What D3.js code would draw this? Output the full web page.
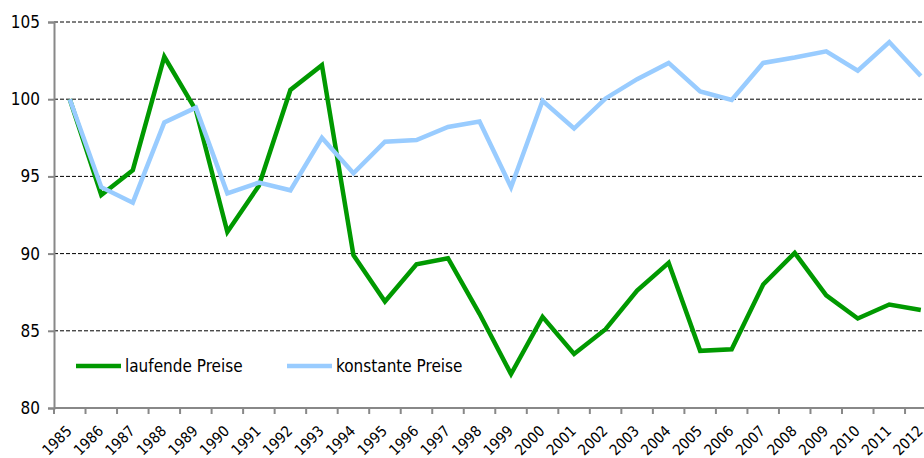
<!DOCTYPE html>
<html>
<head>
<meta charset="utf-8">
<script src="https://cdn.jsdelivr.net/npm/d3@7"></script>
<style>
  body { margin: 0; background: #fff; }
  svg { display: block; }
  text { font-family: Tahoma, 'DejaVu Sans Condensed', 'DejaVu Sans', sans-serif; fill: #000; }
</style>
</head>
<body>
<svg id="chart" width="924" height="458"></svg>
<script>
// years on the x axis
const years = d3.range(1985, 2013);

// laufende Preise (green)
const laufende = [100, 93.8, 95.4, 102.75, 99.3, 91.4, 94.4, 100.6, 102.2, 89.9,
  86.9, 89.3, 89.7, 86.1, 82.2, 85.9, 83.5, 85.1, 87.6, 89.4,
  83.7, 83.8, 88.0, 90.05, 87.3, 85.8, 86.7, 86.35];

// konstante Preise (light blue)
const konstante = [100, 94.3, 93.3, 98.5, 99.45, 93.9, 94.6, 94.1, 97.5, 95.2,
  97.25, 97.35, 98.2, 98.55, 94.3, 99.9, 98.1, 100.05, 101.3, 102.35,
  100.5, 99.95, 102.35, 102.7, 103.1, 101.85, 103.7, 101.5];

const yTicks = [80, 85, 90, 95, 100, 105];

const series = [
  { name: 'laufende Preise', values: laufende, color: '#009900' },
  { name: 'konstante Preise', values: konstante, color: '#99ccff' }
];

const svg = d3.select('#chart');
const plotLeft = 54, plotTop = 22, plotBottom = 408;
const step = 31.52;

const x = d3.scaleBand()
  .domain(years)
  .range([plotLeft, plotLeft + step * years.length]);
const y = d3.scaleLinear().domain([80, 105]).range([plotBottom, plotTop]);

// dashed gridlines
svg.append('g')
  .selectAll('line')
  .data(yTicks.filter(d => d > 80))
  .enter().append('line')
    .attr('x1', plotLeft).attr('x2', 924)
    .attr('y1', d => y(d)).attr('y2', d => y(d))
    .attr('stroke', '#000')
    .attr('stroke-width', 1)
    .attr('stroke-dasharray', '4,2');

// y axis
const yAxis = svg.append('g')
  .attr('transform', `translate(${plotLeft},0)`)
  .call(d3.axisLeft(y).tickValues(yTicks).tickSize(6).tickPadding(8));
yAxis.select('.domain').attr('stroke', '#888').attr('stroke-width', 2);
yAxis.selectAll('.tick line').attr('stroke', '#888').attr('stroke-width', 2);
yAxis.selectAll('.tick text')
  .attr('font-size', 17)
  .attr('font-family', "Tahoma, 'DejaVu Sans Condensed', 'DejaVu Sans', sans-serif")
  .attr('fill', '#000');

// x axis, ticks between categories
const xAxis = svg.append('g')
  .attr('transform', `translate(0,${plotBottom})`);
xAxis.append('line')
  .attr('x1', plotLeft).attr('x2', 924)
  .attr('stroke', '#888').attr('stroke-width', 2);
xAxis.selectAll('line.tick')
  .data(years)
  .enter().append('line')
    .attr('class', 'tick')
    .attr('x1', d => x(d)).attr('x2', d => x(d))
    .attr('y1', 0).attr('y2', 6)
    .attr('stroke', '#888').attr('stroke-width', 2);
xAxis.selectAll('text')
  .data(years)
  .enter().append('text')
    .attr('font-size', 15)
    .attr('text-anchor', 'end')
    .attr('transform', d => `translate(${x(d) + x.bandwidth() / 2 + 3},${24}) rotate(-45)`)
    .text(d => d);

// lines (konstante drawn last, on top)
const line = d3.line()
  .x((d, i) => x(years[i]) + x.bandwidth() / 2)
  .y(d => y(d));

svg.append('g')
  .selectAll('path')
  .data(series)
  .enter().append('path')
    .attr('d', d => line(d.values))
    .attr('fill', 'none')
    .attr('stroke', d => d.color)
    .attr('stroke-width', 4.5)
    .attr('stroke-linejoin', 'miter');

// legend
const legend = svg.append('g');
const legendX = [76, 287];
series.forEach((s, i) => {
  legend.append('line')
    .attr('x1', legendX[i]).attr('x2', legendX[i] + 45)
    .attr('y1', 366).attr('y2', 366)
    .attr('stroke', s.color).attr('stroke-width', 4.5);
  legend.append('text')
    .attr('x', legendX[i] + 49)
    .attr('y', 372)
    .attr('font-size', 17)
    .text(s.name);
});
</script>
</body>
</html>
